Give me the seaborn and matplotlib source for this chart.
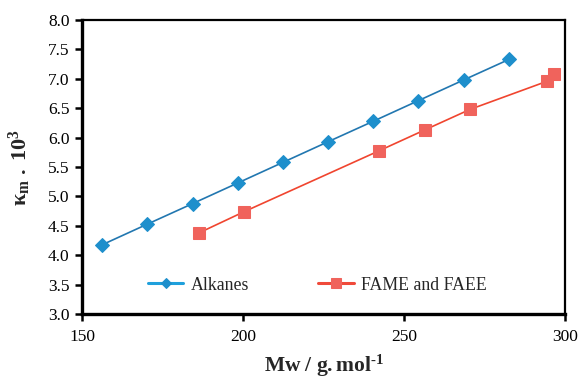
import numpy as np
import pandas as pd
import matplotlib
matplotlib.use("Agg")
import matplotlib.pyplot as plt
import seaborn as sns

# Data
alk_mw = [156.3, 170.3, 184.4, 198.4, 212.4, 226.4, 240.5, 254.5, 268.5, 282.6]
alk_k = [4.18, 4.53, 4.88, 5.23, 5.58, 5.93, 6.28, 6.63, 6.98, 7.33]
fame_mw = [186.3, 200.3, 242.4, 256.4, 270.5, 294.5, 296.5]
fame_k = [4.38, 4.74, 5.78, 6.13, 6.48, 6.96, 7.08]
series_names = ["Alkanes", "FAME and FAEE"]
x_ticks = [150, 200, 250, 300]
y_ticks = [3.0, 3.5, 4.0, 4.5, 5.0, 5.5, 6.0, 6.5, 7.0, 7.5, 8.0]

sns.set_style("white")
plt.rcParams['font.family'] = ['Liberation Serif', 'DejaVu Serif']
plt.rcParams['mathtext.fontset'] = 'custom'
plt.rcParams['mathtext.rm'] = 'Liberation Serif'
plt.rcParams['mathtext.it'] = 'Liberation Serif:italic'
plt.rcParams['mathtext.bf'] = 'Liberation Serif:bold'

df_a = pd.DataFrame({"Mw": alk_mw, "k": alk_k})
df_f = pd.DataFrame({"Mw": fame_mw, "k": fame_k})

fig = plt.figure(figsize=(5.8, 3.78), dpi=100)
ax = fig.add_axes([0.1414, 0.169, 0.8326, 0.778])

sns.lineplot(data=df_a, x="Mw", y="k", ax=ax, color="#2277b0", lw=1.2,
             marker="D", markersize=7, markerfacecolor="#1e8fcc",
             markeredgecolor="#1e8fcc", label=series_names[0], sort=True)
sns.lineplot(data=df_f, x="Mw", y="k", ax=ax, color="#f0452f", lw=1.2,
             marker="s", markersize=8, markerfacecolor="#f0635c",
             markeredgecolor="#f0635c", label=series_names[1], sort=True)

ax.set_xlim(150, 300)
ax.set_ylim(3.0, 8.0)
ax.set_xticks(x_ticks)
ax.set_xticklabels([str(t) for t in x_ticks])
ax.set_yticks(y_ticks)
ax.set_yticklabels([f"{t:.1f}" for t in y_ticks])
ax.tick_params(axis='both', direction='out', length=5, width=1.8,
               labelsize=12.5, colors='black', left=True, bottom=True)
ax.tick_params(axis='x', pad=6)
ax.tick_params(axis='y', pad=4)

for s in ['left', 'bottom']:
    ax.spines[s].set_linewidth(2.4)
for s in ['top', 'right']:
    ax.spines[s].set_linewidth(1.6)
for s in ax.spines.values():
    s.set_color('black')

ax.set_xlabel(r"$\mathbf{Mw\ /\ g.mol^{\text{-}1}}$", fontsize=15.5, labelpad=5)
ax.set_ylabel(r"$\mathbf{\kappa_m\ .\ 10^3}$", fontsize=16, labelpad=11)

leg = ax.legend(loc='center', bbox_to_anchor=(0.487, 0.099), ncol=2, frameon=False,
                fontsize=12.8, handlelength=2.0, columnspacing=3.9, handletextpad=0.4)
for h, c, ms in zip(leg.get_lines(), ["#1fa0dc", "#f04a3a"], [5.5, 6.5]):
    h.set_linewidth(2.2)
    h.set_color(c)
    h.set_markersize(ms)

fig.savefig("out.png", dpi=100)
